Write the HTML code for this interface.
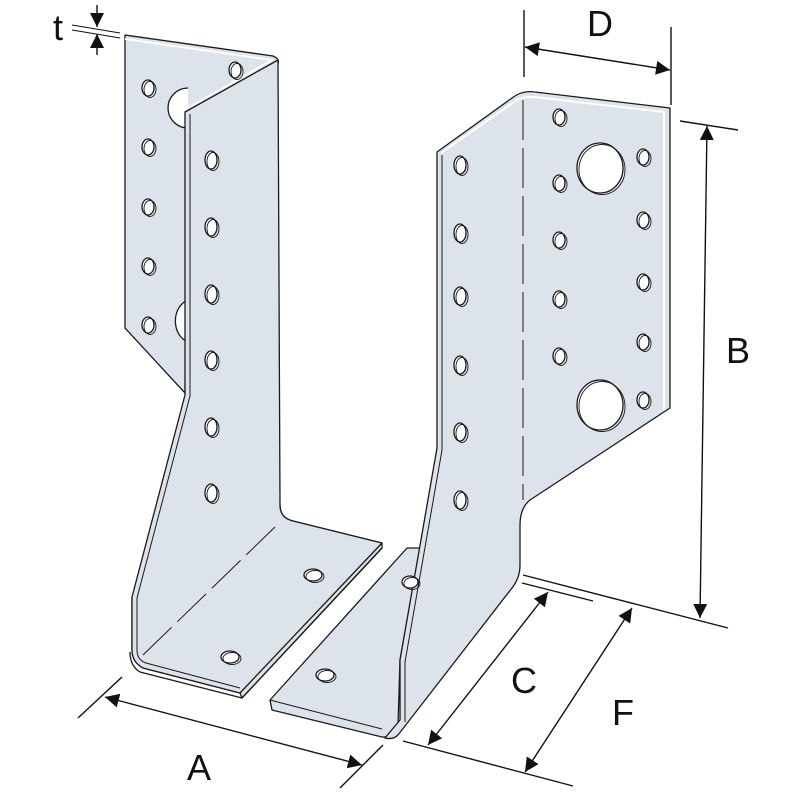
<!DOCTYPE html>
<html><head><meta charset="utf-8"><style>html,body{margin:0;padding:0;background:#fff}svg{display:block}</style></head>
<body>
<svg width="800" height="800" viewBox="0 0 800 800" xmlns="http://www.w3.org/2000/svg">
<defs>
<marker id="ar" viewBox="0 0 10 10" refX="10" refY="5" markerWidth="14" markerHeight="14" markerUnits="userSpaceOnUse" orient="auto-start-reverse"><path d="M0,0 L10,5 L0,10 z" fill="#111"/></marker>
<g id="holes">
<ellipse cx="148" cy="88" rx="6" ry="8"/><ellipse cx="148" cy="147" rx="6" ry="8"/><ellipse cx="148" cy="207" rx="6" ry="8"/><ellipse cx="148" cy="266" rx="6" ry="8"/><ellipse cx="148" cy="325" rx="6" ry="8"/>
<ellipse cx="235" cy="70" rx="6" ry="8"/>
<ellipse cx="211" cy="160" rx="6" ry="9"/><ellipse cx="211" cy="227" rx="6" ry="9"/><ellipse cx="211" cy="294" rx="6" ry="9"/><ellipse cx="211" cy="360" rx="6" ry="9"/><ellipse cx="211" cy="427" rx="6" ry="9"/><ellipse cx="211" cy="493" rx="6" ry="9"/>
<ellipse cx="313" cy="575" rx="9" ry="6"/><ellipse cx="230" cy="657" rx="9" ry="6"/>
<ellipse cx="325" cy="675" rx="9" ry="6"/><ellipse cx="410" cy="582" rx="8" ry="6"/>
<ellipse cx="460" cy="165" rx="6" ry="9"/><ellipse cx="460" cy="233" rx="6" ry="9"/><ellipse cx="460" cy="296" rx="6" ry="9"/><ellipse cx="460" cy="365" rx="6" ry="9"/><ellipse cx="460" cy="432" rx="6" ry="9"/><ellipse cx="460" cy="500" rx="6" ry="9"/>
<ellipse cx="559" cy="117" rx="6" ry="8"/><ellipse cx="559" cy="183" rx="6" ry="8"/><ellipse cx="559" cy="240" rx="6" ry="8"/><ellipse cx="559" cy="299" rx="6" ry="8"/><ellipse cx="559" cy="356" rx="6" ry="8"/>
<ellipse cx="643" cy="157" rx="6" ry="8"/><ellipse cx="643" cy="220" rx="6" ry="8"/><ellipse cx="643" cy="282" rx="6" ry="8"/><ellipse cx="643" cy="342" rx="6" ry="8"/><ellipse cx="643" cy="400" rx="6" ry="8"/>
<ellipse cx="600" cy="168" rx="23" ry="25"/><ellipse cx="600" cy="405" rx="23" ry="25"/>
</g>
</defs>
<g stroke="#1a1a1a" stroke-width="1.3" fill="#dde3ea" stroke-linejoin="round">
<path d="M125,35 L273,56 Q282,60 276,66 L188,114 L185,393 L125,328 Z"/>
<path d="M125,39 L272,60 L188,108" fill="none" stroke="#fff" stroke-width="2"/>
<path d="M188,88 A20,20 0 0 0 188,128" fill="#fff"/>
<path d="M188,300 A18,22 0 0 0 188,342" fill="#fff"/>
<path d="M280,505 Q280,518 293,521 L382,543 L382,548 L242,698 L240,693 L143,668 Q132,662 132,650 L132,597 Z"/>
<path d="M382,548 L242,698 L140,672 Q130,666 130,652" fill="none"/>
<path d="M185,112 L278,60 L280,505 Q280,518 293,521 L382,543 L240,693 L143,668 Q132,662 132,650 L132,597 L185,395 Z"/>
<path d="M190,114 L190,396 L137,598 L137,650 Q137,660 146,663 L240,688" fill="none" stroke-width="1"/>
<path d="M275,527 L143,655" fill="none" stroke-dasharray="40,8" stroke-width="1"/>
<path d="M407,548 L420,548 L400,660 L398,726 Q395,738 382,737 L272,710 L270,700 Z"/>
<path d="M270,700 L382,729" fill="none" stroke-width="1"/>
<path d="M437,152 L512,98 Q522,90 535,92 L670,108 L670,408 L530,500 Q520,508 520,525 L520,565 Q520,578 512,588 L398,735 Q393,740 385,738 L400,720 L400,660 L437,448 Z"/>
<path d="M441,153 L514,102 Q522,96 534,97 L664,112 L664,410" fill="none" stroke="#fff" stroke-width="2"/>
<path d="M442,155 L442,450 L405,662 L405,722" fill="none" stroke-width="1"/>
<path d="M523,100 L523,500" fill="none" stroke-dasharray="40,8" stroke-width="1"/>
</g>
<use href="#holes" fill="#fff" stroke="#1a1a1a" stroke-width="1.3"/>
<use href="#holes" transform="translate(2,1.5)" fill="none" stroke="#1a1a1a" stroke-width="0.9"/>
<g stroke="#111" stroke-width="1.4" fill="none">
<line x1="72" y1="25" x2="120" y2="33" stroke-width="1"/><line x1="72" y1="30" x2="120" y2="38" stroke-width="1"/>
<line x1="97" y1="5" x2="97" y2="27" marker-end="url(#ar)"/>
<line x1="97" y1="55" x2="97" y2="34" marker-end="url(#ar)"/>
<line x1="524" y1="10" x2="524" y2="77"/><line x1="671" y1="27" x2="671" y2="105"/>
<line x1="525" y1="47" x2="670" y2="70" marker-start="url(#ar)" marker-end="url(#ar)"/>
<line x1="680" y1="121" x2="738" y2="130"/>
<line x1="523" y1="575" x2="728" y2="628"/>
<line x1="522" y1="583" x2="593" y2="601"/>
<line x1="707" y1="126" x2="700" y2="618" marker-start="url(#ar)" marker-end="url(#ar)"/>
<line x1="403" y1="741" x2="573" y2="786"/>
<line x1="548" y1="592" x2="428" y2="745" marker-start="url(#ar)" marker-end="url(#ar)"/>
<line x1="632" y1="608" x2="525" y2="772" marker-start="url(#ar)" marker-end="url(#ar)"/>
<line x1="78" y1="718" x2="122" y2="677"/><line x1="340" y1="788" x2="383" y2="745"/>
<line x1="105" y1="697" x2="362" y2="765" marker-start="url(#ar)" marker-end="url(#ar)"/>
</g>
<g font-family="Liberation Sans, sans-serif" font-size="36" fill="#111" text-anchor="middle">
<text x="58" y="40">t</text>
<text x="600" y="36">D</text>
<text x="738" y="363">B</text>
<text x="524" y="693">C</text>
<text x="623" y="725">F</text>
<text x="199" y="780">A</text>
</g>
</svg>
</body></html>
